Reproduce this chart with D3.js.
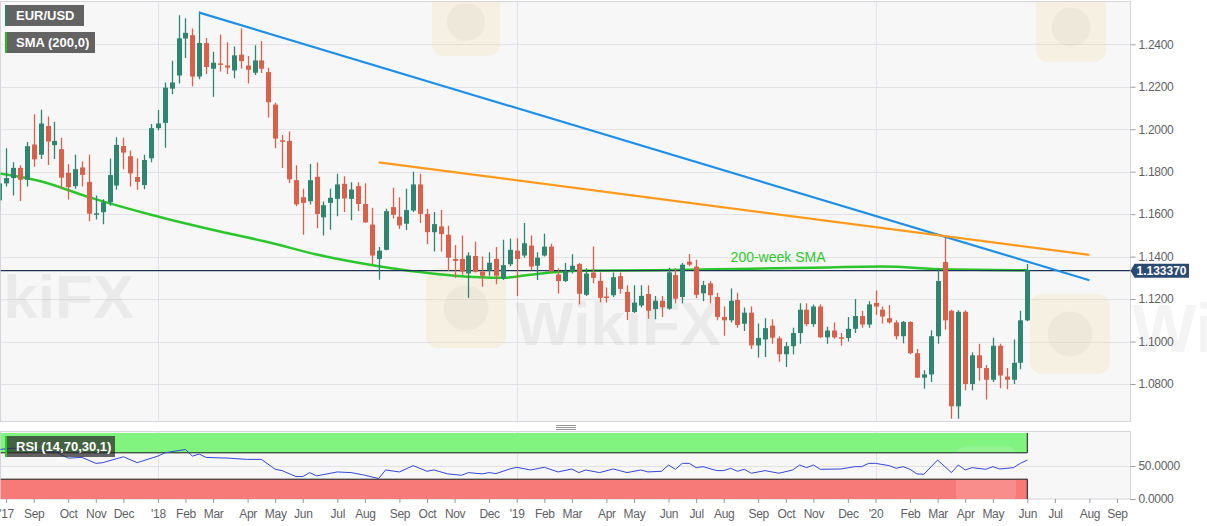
<!DOCTYPE html>
<html>
<head>
<meta charset="utf-8">
<script src="https://d3js.org/d3.v7.min.js"></script>
<style>
  body { margin: 0; background: #fff; }
</style>
</head>
<body>
<div class="chart"></div>
<script>
// weekly EUR/USD candles, week of 24 Jul 2017 (index 0) to week of 1 Jun 2020 (index 149)
const opens = [
  1.1665, 1.1745, 1.1770, 1.1818, 1.1762, 1.1928, 1.1880, 1.2015, 1.1925, 1.1906,
  1.1795, 1.1732, 1.1820, 1.1752, 1.1600, 1.1609, 1.1656, 1.1735, 1.1921, 1.1873,
  1.1775, 1.1737, 1.1863, 1.2005, 1.2030, 1.2191, 1.2253, 1.2427, 1.2443, 1.2248,
  1.2406, 1.2285, 1.2310, 1.2300, 1.2277, 1.2351, 1.2300, 1.2266, 1.2324, 1.2269,
  1.2116, 1.1948, 1.1945, 1.1760, 1.1680, 1.1661, 1.1776, 1.1585, 1.1653, 1.1672,
  1.1743, 1.1672, 1.1732, 1.1648, 1.1551, 1.1389, 1.1432, 1.1633, 1.1588, 1.1555,
  1.1617, 1.1740, 1.1601, 1.1515, 1.1542, 1.1503, 1.1389, 1.1389, 1.1321, 1.1403,
  1.1329, 1.1334, 1.1389, 1.1297, 1.1364, 1.1428, 1.1405, 1.1452, 1.1357, 1.1405,
  1.1447, 1.1316, 1.1285, 1.1332, 1.1365, 1.1220, 1.1325, 1.1286, 1.1212, 1.1218,
  1.1308, 1.1234, 1.1139, 1.1170, 1.1224, 1.1153, 1.1192, 1.1155, 1.1313, 1.1210,
  1.1376, 1.1353, 1.1227, 1.1274, 1.1210, 1.1116, 1.1100, 1.1196, 1.1084, 1.1136,
  1.0982, 1.1010, 1.1075, 1.1015, 1.0940, 1.0978, 1.1040, 1.1150, 1.1082, 1.1165,
  1.1020, 1.1052, 1.1020, 1.1017, 1.1060, 1.1120, 1.1080, 1.1182, 1.1150, 1.1110,
  1.1090, 1.1025, 1.1092, 1.0945, 1.0830, 1.0845, 1.1025, 1.1375, 1.1145, 1.0695,
  1.1140, 1.0800, 1.0935, 1.0875, 1.0820, 1.0980, 1.0835, 1.0820, 1.0900, 1.1100
];
const highs = [
  1.1777, 1.1910, 1.1845, 1.1830, 1.1940, 1.2070, 1.2092, 1.2060, 1.2035, 1.1960,
  1.1835, 1.1880, 1.1848, 1.1880, 1.1688, 1.1670, 1.1862, 1.1962, 1.1960, 1.1900,
  1.1862, 1.1880, 1.2025, 1.2090, 1.2220, 1.2323, 1.2537, 1.2523, 1.2475, 1.2555,
  1.2430, 1.2365, 1.2445, 1.2410, 1.2390, 1.2475, 1.2345, 1.2395, 1.2415, 1.2290,
  1.2125, 1.1973, 1.1989, 1.1830, 1.1720, 1.1836, 1.1843, 1.1660, 1.1720, 1.1790,
  1.1779, 1.1750, 1.1750, 1.1745, 1.1630, 1.1445, 1.1625, 1.1724, 1.1680, 1.1720,
  1.1800, 1.1790, 1.1625, 1.1610, 1.1620, 1.1545, 1.1455, 1.1500, 1.1420, 1.1470,
  1.1400, 1.1420, 1.1445, 1.1479, 1.1485, 1.1487, 1.1558, 1.1500, 1.1420, 1.1508,
  1.1460, 1.1345, 1.1370, 1.1411, 1.1370, 1.1345, 1.1448, 1.1325, 1.1255, 1.1325,
  1.1325, 1.1265, 1.1265, 1.1265, 1.1265, 1.1215, 1.1215, 1.1348, 1.1345, 1.1370,
  1.1412, 1.1385, 1.1285, 1.1285, 1.1230, 1.1165, 1.1250, 1.1230, 1.1160, 1.1165,
  1.1085, 1.1110, 1.1105, 1.1025, 1.0998, 1.1065, 1.1180, 1.1180, 1.1175, 1.1176,
  1.1070, 1.1090, 1.1040, 1.1115, 1.1200, 1.1145, 1.1190, 1.1240, 1.1165, 1.1172,
  1.1100, 1.1097, 1.1095, 1.0965, 1.0865, 1.1053, 1.1345, 1.1495, 1.1150, 1.1147,
  1.1147, 1.0950, 1.0990, 1.0890, 1.1018, 1.0990, 1.0875, 1.1010, 1.1145, 1.1365
];
const lows = [
  1.1612, 1.1730, 1.1688, 1.1662, 1.1730, 1.1823, 1.1860, 1.1832, 1.1860, 1.1717,
  1.1669, 1.1720, 1.1730, 1.1566, 1.1575, 1.1552, 1.1640, 1.1715, 1.1812, 1.1730,
  1.1715, 1.1717, 1.1845, 1.1995, 1.1913, 1.2165, 1.2215, 1.2335, 1.2201, 1.2235,
  1.2260, 1.2153, 1.2272, 1.2260, 1.2240, 1.2285, 1.2215, 1.2255, 1.2265, 1.2055,
  1.1910, 1.1817, 1.1747, 1.1637, 1.1503, 1.1645, 1.1534, 1.1500, 1.1526, 1.1590,
  1.1610, 1.1571, 1.1615, 1.1560, 1.1365, 1.1291, 1.1430, 1.1580, 1.1530, 1.1525,
  1.1610, 1.1558, 1.1458, 1.1424, 1.1424, 1.1332, 1.1300, 1.1315, 1.1206, 1.1325,
  1.1258, 1.1310, 1.1270, 1.1290, 1.1355, 1.1215, 1.1395, 1.1335, 1.1290, 1.1400,
  1.1325, 1.1226, 1.1280, 1.1320, 1.1175, 1.1215, 1.1275, 1.1185, 1.1183, 1.1210,
  1.1225, 1.1101, 1.1135, 1.1160, 1.1107, 1.1105, 1.1115, 1.1150, 1.1180, 1.1180,
  1.1355, 1.1205, 1.1190, 1.1180, 1.1100, 1.1027, 1.1090, 1.1065, 1.1050, 1.0965,
  1.0925, 1.0927, 1.0990, 1.0905, 1.0880, 1.0940, 1.0990, 1.1072, 1.1070, 1.1015,
  1.0990, 1.1013, 1.0980, 1.1000, 1.1040, 1.1065, 1.1065, 1.1125, 1.1085, 1.1085,
  1.1010, 1.0992, 1.0940, 1.0828, 1.0778, 1.0810, 1.0990, 1.1055, 1.0636, 1.0636,
  1.0770, 1.0770, 1.0815, 1.0727, 1.0810, 1.0780, 1.0775, 1.0800, 1.0870, 1.1095
];
const closes = [
  1.1745, 1.1770, 1.1818, 1.1762, 1.1920, 1.1858, 1.2027, 1.1942, 1.1945, 1.1772,
  1.1727, 1.1812, 1.1785, 1.1602, 1.1604, 1.1656, 1.1784, 1.1926, 1.1890, 1.1792,
  1.1752, 1.1855, 1.2005, 1.2027, 1.2196, 1.2220, 1.2428, 1.2454, 1.2248, 1.2406,
  1.2293, 1.2313, 1.2305, 1.2290, 1.2348, 1.2321, 1.2280, 1.2324, 1.2285, 1.2127,
  1.1956, 1.1942, 1.1764, 1.1646, 1.1653, 1.1760, 1.1601, 1.1642, 1.1677, 1.1740,
  1.1674, 1.1716, 1.1648, 1.1561, 1.1405, 1.1428, 1.1614, 1.1597, 1.1547, 1.1619,
  1.1740, 1.1601, 1.1515, 1.1553, 1.1506, 1.1395, 1.1380, 1.1329, 1.1405, 1.1329,
  1.1310, 1.1371, 1.1310, 1.1360, 1.1432, 1.1389, 1.1463, 1.1353, 1.1395, 1.1447,
  1.1332, 1.1285, 1.1332, 1.1357, 1.1225, 1.1320, 1.1300, 1.1206, 1.1210, 1.1303,
  1.1248, 1.1139, 1.1183, 1.1215, 1.1145, 1.1192, 1.1161, 1.1326, 1.1202, 1.1362,
  1.1362, 1.1220, 1.1266, 1.1218, 1.1116, 1.1100, 1.1192, 1.1078, 1.1136, 1.0982,
  1.1017, 1.1063, 1.1018, 1.0940, 1.0978, 1.1040, 1.1150, 1.1082, 1.1165, 1.1020,
  1.1052, 1.1020, 1.1015, 1.1060, 1.1120, 1.1080, 1.1175, 1.1165, 1.1118, 1.1090,
  1.1025, 1.1092, 1.0945, 1.0830, 1.0845, 1.1025, 1.1285, 1.1100, 1.0695, 1.1140,
  1.0800, 1.0935, 1.0875, 1.0820, 1.0980, 1.0840, 1.0820, 1.0900, 1.1100, 1.1337
];

// 200-week SMA read at these weeks
const smaWeeks = [0, 6, 13, 22, 32, 39, 46, 55, 61, 66, 73, 77, 84, 95, 107, 118, 128, 137, 149];
const smaValues = [1.1792, 1.1755, 1.1680, 1.1597, 1.1518, 1.1468, 1.1410, 1.1355, 1.1327, 1.1310,
  1.1300, 1.1315, 1.1333, 1.1336, 1.1342, 1.1348, 1.1353, 1.1340, 1.1336];

// RSI(14) read at these weeks
const rsiWeeks = [0, 2, 6, 8, 10, 12, 14, 15, 18, 20, 23, 24, 27, 28, 29, 30, 33, 36, 38, 40,
  41, 43, 44, 45, 46, 49, 51, 53, 55, 56, 58, 60, 62, 63, 65, 67, 68, 70, 71, 72,
  74, 75, 77, 79, 81, 83, 84, 85, 87, 89, 91, 93, 94, 96, 97, 98, 99, 100, 101, 102,
  104, 105, 106, 107, 108, 109, 111, 113, 115, 116, 117, 118, 119, 122, 124, 125, 126, 127, 129, 130,
  131, 132, 133, 134, 136, 138, 139, 140, 141, 143, 144, 145, 147, 148, 149];
const rsiValues = [75, 77, 74, 72, 62, 63, 54, 55, 64, 55, 65, 70, 75, 65, 68, 63, 62, 60, 60, 45,
  43, 34, 34, 40, 35, 41, 40, 36, 31, 44, 41, 50.5, 42, 44, 38, 36, 40, 38, 40, 38.5,
  45.5, 48, 44, 48, 41, 45.5, 40, 44, 40, 45.5, 40, 44, 41, 42, 51.5, 45, 54, 54, 47.5, 49,
  43, 43, 46.5, 42, 45, 39, 43, 39, 44, 51.5, 47.5, 51.5, 45, 45.5, 49, 49, 54, 54, 50.5, 46.5,
  49, 45, 38, 37.5, 59, 40, 51.5, 44, 47.5, 45, 49, 45.5, 47.5, 54, 59];

// trendlines (week index, price)
const blueWeeks = [29, 158];
const bluePrices = [1.2549, 1.1289];
const orangeWeeks = [55, 158];
const orangePrices = [1.1844, 1.1408];

// axes
const tickWeeks = [1, 5, 10, 14, 18, 23, 27, 31, 36, 40, 44, 49, 53, 58, 62, 66, 71, 75, 79, 83,
  88, 92, 97, 101, 105, 110, 114, 118, 123, 127, 132, 136, 140, 144, 149, 153, 158, 162];
const tickLabels = ["'17", 'Sep', 'Oct', 'Nov', 'Dec', "'18", 'Feb', 'Mar', 'Apr', 'May', 'Jun', 'Jul', 'Aug',
  'Sep', 'Oct', 'Nov', 'Dec', "'19", 'Feb', 'Mar', 'Apr', 'May', 'Jun', 'Jul', 'Aug', 'Sep', 'Oct', 'Nov',
  'Dec', "'20", 'Feb', 'Mar', 'Apr', 'May', 'Jun', 'Jul', 'Aug', 'Sep'];
const yearWeeks = [23, 75, 127];
const priceTicks = [1.08, 1.10, 1.12, 1.14, 1.16, 1.18, 1.20, 1.22, 1.24];
const rsiTicks = [0, 50];
const lastPrice = 1.13337;

function drawChart() {
  const w = 1207;
  const h = 526;
  const main = { left: 0.5, right: 1130.5, top: 1.5, bottom: 421.5 };
  const lower = { top: 431.5, bottom: 499 };
  const font = '"Liberation Sans", Arial, sans-serif';
  const green = '#2e8570';
  const red = '#d9604a';

  const candles = opens.map((o, i) => ({ i: i, o: o, h: highs[i], l: lows[i], c: closes[i] }));

  const xScale = d3.scaleLinear()
    .domain([0, 149])
    .range([-0.8, 1027.3]);
  const yScale = d3.scaleLinear()
    .domain([1.08, 1.24])
    .range([384, 44.3]);
  const rsiScale = d3.scaleLinear()
    .domain([0, 100])
    .range([499, 433]);

  const svg = d3.select('.chart')
    .append('svg')
    .attr('width', w)
    .attr('height', h)
    .style('font-family', font);

  const defs = svg.append('defs');
  defs.append('clipPath').attr('id', 'clip-main')
    .append('rect').attr('x', main.left).attr('y', main.top)
    .attr('width', main.right - main.left).attr('height', main.bottom - main.top);
  defs.append('clipPath').attr('id', 'clip-rsi')
    .append('rect').attr('x', main.left).attr('y', lower.top)
    .attr('width', main.right - main.left).attr('height', lower.bottom - lower.top);

  // panel backgrounds
  svg.append('rect')
    .attr('x', main.left).attr('y', main.top)
    .attr('width', main.right - main.left).attr('height', main.bottom - main.top)
    .attr('fill', '#f7f7f8').attr('stroke', '#d4d4da');
  svg.append('rect')
    .attr('x', main.left).attr('y', lower.top)
    .attr('width', main.right - main.left).attr('height', lower.bottom - lower.top)
    .attr('fill', '#f7f7f8').attr('stroke', '#d4d4da');

  // grid
  svg.append('g').selectAll('line')
    .data(priceTicks)
    .join('line')
    .attr('x1', main.left).attr('x2', main.right)
    .attr('y1', (d) => Math.round(yScale(d)) + 0.5).attr('y2', (d) => Math.round(yScale(d)) + 0.5)
    .attr('stroke', '#e2e2e6');
  svg.append('g').selectAll('line')
    .data(yearWeeks)
    .join('line')
    .attr('x1', (d) => Math.round(xScale(d)) + 0.5).attr('x2', (d) => Math.round(xScale(d)) + 0.5)
    .attr('y1', main.top).attr('y2', main.bottom)
    .attr('stroke', '#e2e2e6');
  svg.append('g').selectAll('line')
    .data(yearWeeks)
    .join('line')
    .attr('x1', (d) => Math.round(xScale(d)) + 0.5).attr('x2', (d) => Math.round(xScale(d)) + 0.5)
    .attr('y1', lower.top).attr('y2', lower.bottom)
    .attr('stroke', '#e2e2e6');

  // faint watermarks
  const wm = svg.append('g').attr('clip-path', 'url(#clip-main)');
  [[432, -12, 68], [1036, -8, 70], [426, 268, 80], [1030, 294, 80]].forEach((s) => {
    wm.append('rect').attr('x', s[0]).attr('y', s[1]).attr('width', s[2]).attr('height', s[2])
      .attr('rx', 12).attr('fill', '#f2d98c').attr('opacity', 0.2);
    wm.append('circle').attr('cx', s[0] + s[2] / 2).attr('cy', s[1] + s[2] / 2).attr('r', s[2] * 0.28)
      .attr('fill', '#bdb8ae').attr('opacity', 0.12);
  });
  [[-72, 318], [515, 345]].forEach((p) => {
    wm.append('text').attr('x', p[0]).attr('y', p[1]).text('WikiFX')
      .attr('font-size', 62).attr('font-weight', 'bold').attr('fill', '#b8b8b8').attr('opacity', 0.2);
  });
  svg.append('text').attr('x', 1132).attr('y', 352).text('WikiFX')
    .attr('font-size', 68).attr('font-weight', 'bold').attr('fill', '#b8b8b8').attr('opacity', 0.14);

  // RSI zones
  const rsiG = svg.append('g').attr('clip-path', 'url(#clip-rsi)');
  const zoneRight = xScale(149);
  rsiG.append('rect')
    .attr('x', main.left).attr('y', rsiScale(100))
    .attr('width', zoneRight - main.left).attr('height', rsiScale(70) - rsiScale(100))
    .attr('fill', '#80f47e');
  rsiG.append('rect')
    .attr('x', main.left).attr('y', rsiScale(30))
    .attr('width', zoneRight - main.left).attr('height', rsiScale(0) - rsiScale(30))
    .attr('fill', '#f87a78');
  rsiG.append('rect').attr('x', 956).attr('y', 446).attr('width', 60).attr('height', 58)
    .attr('rx', 10).attr('fill', '#ffffff').attr('opacity', 0.15);
  rsiG.append('line')
    .attr('x1', main.left).attr('x2', main.right)
    .attr('y1', Math.round(rsiScale(50)) + 0.5).attr('y2', Math.round(rsiScale(50)) + 0.5)
    .attr('stroke', '#e2e2e6');
  [70, 30].forEach((v) => {
    rsiG.append('line')
      .attr('x1', main.left).attr('x2', zoneRight)
      .attr('y1', rsiScale(v)).attr('y2', rsiScale(v))
      .attr('stroke', '#1a1a1a').attr('stroke-width', 1);
  });
  rsiG.append('line').attr('x1', zoneRight).attr('x2', zoneRight)
    .attr('y1', rsiScale(100)).attr('y2', rsiScale(70)).attr('stroke', '#1a1a1a');
  rsiG.append('line').attr('x1', zoneRight).attr('x2', zoneRight)
    .attr('y1', rsiScale(30)).attr('y2', rsiScale(0)).attr('stroke', '#1a1a1a');

  const rsiPoints = rsiWeeks.map((wk, i) => ({ wk: wk, v: rsiValues[i] }));
  rsiG.append('path')
    .datum(rsiPoints)
    .attr('d', d3.line().x((d) => xScale(d.wk)).y((d) => rsiScale(d.v)))
    .attr('fill', 'none')
    .attr('stroke', '#3347d6')
    .attr('stroke-width', 1);

  // main series
  const g = svg.append('g').attr('clip-path', 'url(#clip-main)');

  const smaPoints = smaWeeks.map((wk, i) => ({ wk: wk, v: smaValues[i] }));
  g.append('path')
    .datum(smaPoints)
    .attr('d', d3.line().curve(d3.curveMonotoneX).x((d) => xScale(d.wk)).y((d) => yScale(d.v)))
    .attr('fill', 'none')
    .attr('stroke', '#2bc62b')
    .attr('stroke-width', 2.5);

  g.append('line')
    .attr('x1', main.left).attr('x2', main.right)
    .attr('y1', yScale(lastPrice)).attr('y2', yScale(lastPrice))
    .attr('stroke', '#1d3352').attr('stroke-width', 1.2);

  const bodyW = 5;
  const candleG = g.append('g');
  candleG.selectAll('line')
    .data(candles)
    .join('line')
    .attr('x1', (d) => Math.round(xScale(d.i)) + 0.5)
    .attr('x2', (d) => Math.round(xScale(d.i)) + 0.5)
    .attr('y1', (d) => yScale(d.h))
    .attr('y2', (d) => yScale(d.l))
    .attr('stroke', (d) => (d.c >= d.o ? green : red))
    .attr('stroke-width', 1.3);
  candleG.selectAll('rect')
    .data(candles)
    .join('rect')
    .attr('x', (d) => Math.round(xScale(d.i)) + 0.5 - bodyW / 2)
    .attr('y', (d) => yScale(Math.max(d.o, d.c)))
    .attr('width', bodyW)
    .attr('height', (d) => Math.max(1.5, Math.abs(yScale(d.o) - yScale(d.c))))
    .attr('fill', (d) => (d.c >= d.o ? green : red));

  g.append('line')
    .attr('x1', xScale(blueWeeks[0])).attr('y1', yScale(bluePrices[0]))
    .attr('x2', xScale(blueWeeks[1])).attr('y2', yScale(bluePrices[1]))
    .attr('stroke', '#1e8fe6').attr('stroke-width', 2.2);
  g.append('line')
    .attr('x1', xScale(orangeWeeks[0])).attr('y1', yScale(orangePrices[0]))
    .attr('x2', xScale(orangeWeeks[1])).attr('y2', yScale(orangePrices[1]))
    .attr('stroke', '#ff9a1c').attr('stroke-width', 2.2);

  g.append('text')
    .attr('x', xScale(106)).attr('y', yScale(1.1375))
    .text('200-week SMA')
    .attr('font-size', 14)
    .attr('fill', '#2fc62f');

  // price axis
  const yAxis = svg.append('g')
    .attr('transform', `translate(${main.right}, 0)`)
    .call(d3.axisRight(yScale)
      .tickValues(priceTicks)
      .tickFormat(d3.format('.4f'))
      .tickSizeInner(5).tickSizeOuter(0).tickPadding(3));
  const rsiAxis = svg.append('g')
    .attr('transform', `translate(${main.right}, 0)`)
    .call(d3.axisRight(rsiScale)
      .tickValues(rsiTicks)
      .tickFormat(d3.format('.4f'))
      .tickSizeInner(5).tickSizeOuter(0).tickPadding(3));
  const xAxis = svg.append('g')
    .attr('transform', `translate(0, ${lower.bottom})`)
    .call(d3.axisBottom(xScale)
      .tickValues(tickWeeks)
      .tickFormat((d, i) => tickLabels[i])
      .tickSizeInner(4).tickSizeOuter(0).tickPadding(6));
  [yAxis, rsiAxis, xAxis].forEach((a) => {
    a.select('.domain').remove();
    a.selectAll('line').attr('stroke', '#9a9aa0');
    a.selectAll('text').attr('fill', '#5f5f66').attr('font-size', 12)
      .attr('font-family', font).attr('letter-spacing', '-0.3px');
  });

  // last price tag
  const py = yScale(lastPrice);
  svg.append('path')
    .attr('d', `M${main.right},${py} L${main.right + 4},${py - 7} L1189,${py - 7} L1189,${py + 7} L${main.right + 4},${py + 7} Z`)
    .attr('fill', '#2b4a70');
  svg.append('text')
    .attr('x', 1161.5).attr('y', py + 4.3)
    .attr('text-anchor', 'middle')
    .attr('font-size', 12).attr('font-weight', 'bold')
    .attr('fill', '#fff')
    .text(lastPrice.toFixed(6));

  // panel grip
  [425.5, 427.5, 429.5].forEach((y) => {
    svg.append('line').attr('x1', 556).attr('x2', 576).attr('y1', y).attr('y2', y)
      .attr('stroke', '#777').attr('stroke-width', 0.8);
  });

  // legend boxes
  const legends = [
    { label: 'EUR/USD', x: 5, y: 5, w: 79, stripe: '#2e7d6b', fill: '#5b5b5b', op: 0.95 },
    { label: 'SMA (200,0)', x: 5, y: 32, w: 90, stripe: '#1fbf1f', fill: '#5b5b5b', op: 0.95 },
    { label: 'RSI (14,70,30,1)', x: 5, y: 436, w: 110, stripe: '#22cc22', fill: '#2a2a2a', op: 0.72 }
  ];
  legends.forEach((l) => {
    svg.append('rect').attr('x', l.x).attr('y', l.y).attr('width', l.w).attr('height', 21)
      .attr('fill', l.fill).attr('opacity', l.op);
    svg.append('rect').attr('x', l.x).attr('y', l.y).attr('width', 2).attr('height', 21)
      .attr('fill', l.stripe);
    svg.append('text').attr('x', l.x + 11).attr('y', l.y + 15)
      .attr('font-size', 13).attr('font-weight', 600).attr('fill', '#fff')
      .text(l.label);
  });
}

drawChart();
</script>
</body>
</html>
